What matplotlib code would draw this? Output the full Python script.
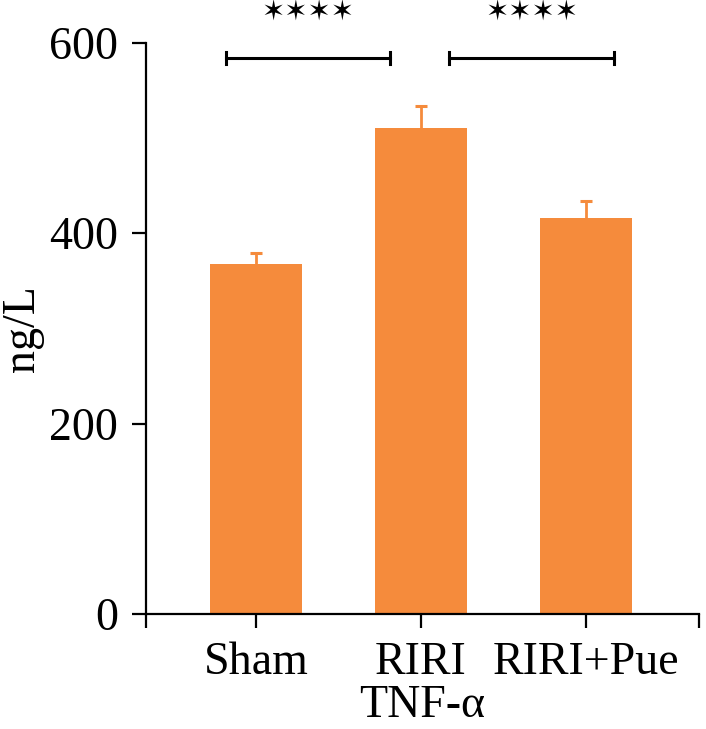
import matplotlib
matplotlib.use("Agg")
import matplotlib.pyplot as plt

groups = ["Sham", "RIRI", "RIRI+Pue"]
means = [367.6, 510.5, 416.0]
errors = [11.4, 23.1, 18.0]
title = "TNF-α"
ylabel = "ng/L"
yticks = [0, 200, 400, 600]
# significance brackets: (left group, right group, height, label)
brackets = [(0, 1, 584, "✶✶✶✶"), (1, 2, 584, "✶✶✶✶")]

plt.rcParams["font.family"] = ["Liberation Serif", "DejaVu Serif"]
orange = "#F58B3C"

fig = plt.figure(figsize=(7.06, 7.29), dpi=100)
ax = fig.add_axes([0.2068, 0.1578, 0.7832, 0.7836])

xs = list(range(len(groups)))
ax.bar(xs, means, width=0.56, color=orange, zorder=2)
_, caps, _ = ax.errorbar(xs, means, yerr=[[0] * len(errors), errors],
                         fmt="none", ecolor=orange, elinewidth=2,
                         capsize=4.5, capthick=2.2, zorder=1)
caps[0].set_visible(False)  # no lower cap

ax.set_xlim(-0.667, 2.685)
ax.set_ylim(0, 600)
ax.set_yticks(yticks)
ax.set_xticks(xs)
ax.set_xticks([-0.667, 2.685], minor=True)
ax.set_xticklabels(groups)
ax.tick_params(axis="both", which="both", labelsize=33, width=1.6, length=10,
               direction="out")
ax.tick_params(axis="y", pad=10)
ax.tick_params(axis="x", pad=10)
for side in ("top", "right"):
    ax.spines[side].set_visible(False)
for side in ("left", "bottom"):
    ax.spines[side].set_linewidth(1.6)

ax.set_ylabel(ylabel, fontsize=33, labelpad=4)
ax.set_xlabel(title, fontsize=33, labelpad=0)

for a, b, h, lab in brackets:
    if a == 1:
        x0, x1 = a + 0.17, b + 0.17
    else:
        x0, x1 = a - 0.18, b - 0.19
    ax.plot([x0, x1], [h, h], color="black", lw=2.2, clip_on=False)
    for x in (x0, x1):
        ax.plot([x, x], [h - 6, h + 6], color="black", lw=2.2, clip_on=False)
    ax.text((x0 + x1) / 2, 646, lab, ha="center", va="top",
            fontsize=20, family="DejaVu Sans", clip_on=False)

fig.savefig("out.png", dpi=100)
